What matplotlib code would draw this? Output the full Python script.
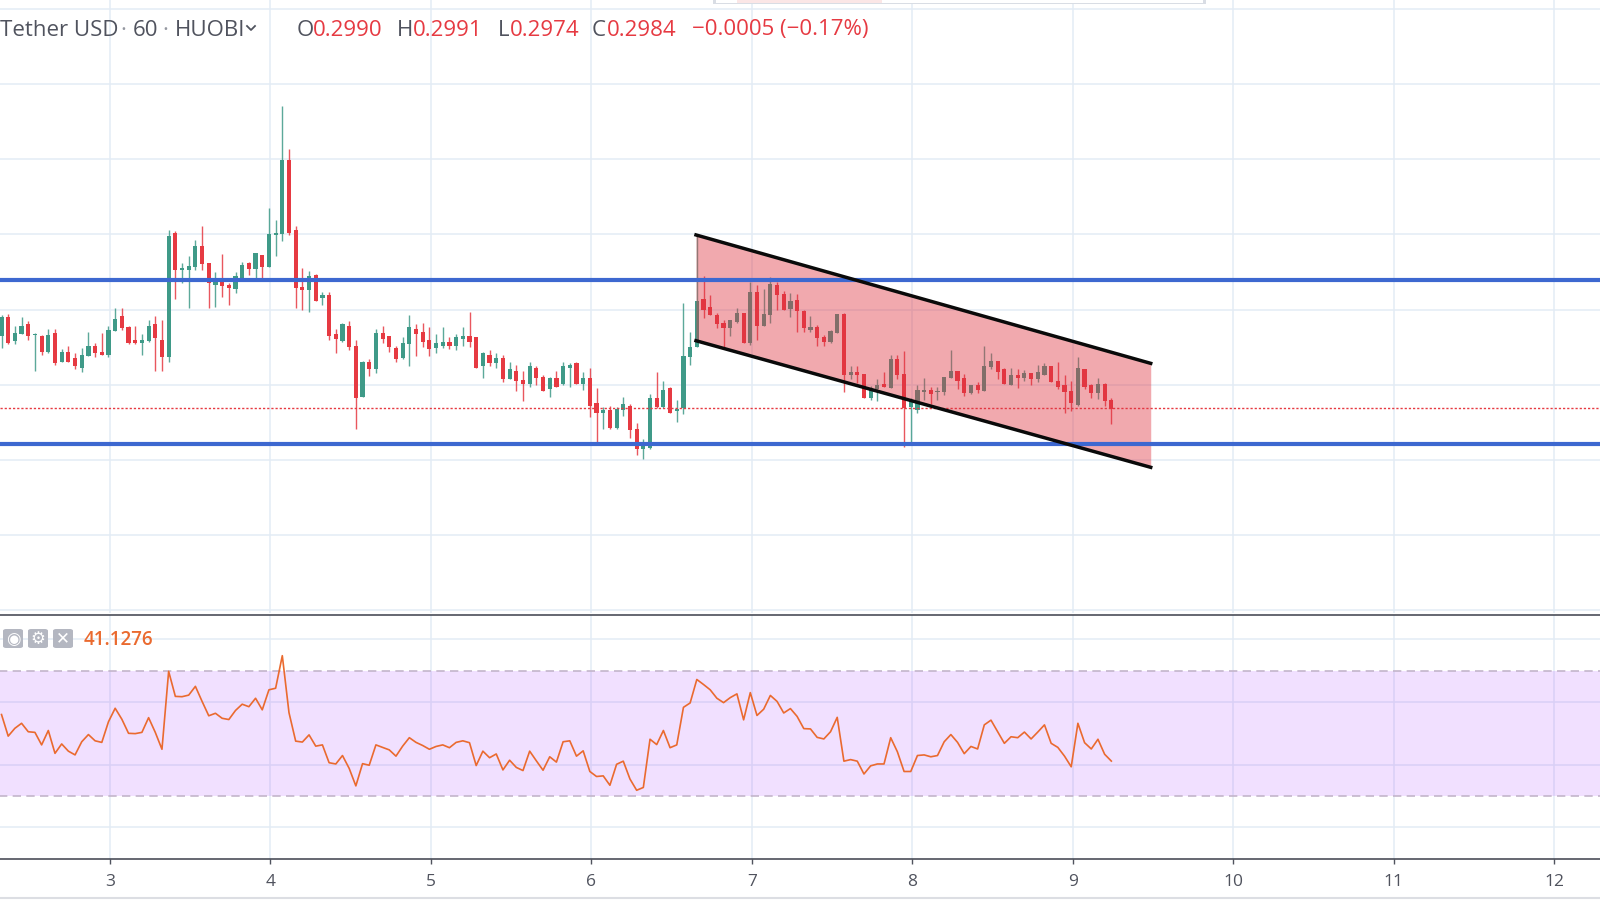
#Tether USD 60 minute candles from HUOBI with a falling channel and an RSI pane below.
import numpy as np
import matplotlib
matplotlib.use("Agg")
import matplotlib.pyplot as plt
from matplotlib.lines import Line2D
from matplotlib.patches import Rectangle, FancyBboxPatch

plt.rcParams['font.family'] = ['Open Sans', 'DejaVu Sans']

#candle prices in units of 0.00001, one candle per hour
opens = [30326, 30448, 30288, 30337, 30403, 30328, 30323, 30219, 30343, 30152,
         30217, 30177, 30112, 30192, 30254, 30217, 30197, 30357, 30459, 30381,
         30294, 30279, 30288, 30401, 30294, 30181, 31010, 30763, 30763, 30783,
         30923, 30808, 30666, 30697, 30663, 30637, 30708, 30810, 30772, 30865,
         30783, 30997, 31005, 31497, 31030, 30652, 30628, 30730, 30579, 30594,
         30334, 30288, 30390, 30257, 29919, 30150, 30103, 30343, 30323, 30246,
         30177, 30268, 30372, 30352, 30294, 30246, 30257, 30286, 30257, 30306,
         30323, 30314, 30121, 30199, 30141, 30179, 30034, 30090, 30032, 30003,
         30110, 30052, 29968, 30043, 30003, 30112, 30141, 30006, 30043, 29879,
         29812, 29830, 29712, 29830, 29859, 29703, 29570, 29579, 29908, 29848,
         29977, 29821, 29841, 30181, 30248, 30568, 30517, 30463, 30410, 30374,
         30419, 30479, 30274, 30614, 30392, 30463, 30663, 30606, 30501, 30566,
         30492, 30363, 30383, 30314, 30286, 30346, 30470, 30063, 30081, 30070,
         29908, 29968, 30003, 29979, 30168, 30070, 29852, 29830, 29950, 29963,
         29948, 29948, 30043, 30090, 30041, 29946, 29997, 29959, 30119, 30159,
         30101, 29997, 30063, 30046, 30079, 30037, 30063, 30121, 30023, 29994,
         29954, 29863, 30101, 29997, 29941, 30006, 29900]
highs = [30463, 30468, 30390, 30448, 30421, 30343, 30332, 30372, 30372, 30234,
         30254, 30208, 30246, 30352, 30274, 30341, 30390, 30508, 30508, 30390,
         30390, 30334, 30430, 30459, 30430, 31030, 31021, 30808, 30857, 30963,
         31059, 30808, 30748, 30868, 30674, 30748, 30817, 30817, 30874, 30865,
         31174, 31097, 31854, 31572, 31059, 30779, 30759, 30739, 30614, 30614,
         30372, 30408, 30421, 30294, 30159, 30168, 30372, 30390, 30323, 30257,
         30314, 30461, 30401, 30412, 30383, 30334, 30383, 30314, 30334, 30383,
         30481, 30319, 30219, 30228, 30208, 30199, 30150, 30130, 30090, 30150,
         30121, 30063, 30052, 30092, 30150, 30141, 30150, 30081, 30110, 29974,
         29850, 29859, 29850, 29917, 29868, 29741, 29634, 29937, 30081, 30023,
         29986, 29897, 30546, 30352, 30997, 30723, 30597, 30474, 30430, 30430,
         30508, 30479, 30685, 30663, 30634, 30719, 30685, 30623, 30608, 30603,
         30497, 30459, 30397, 30330, 30363, 30470, 30479, 30123, 30123, 30070,
         29990, 30034, 30081, 30194, 30194, 30226, 29908, 29997, 30041, 29986,
         29986, 30052, 30230, 30090, 30070, 29994, 30014, 30257, 30208, 30159,
         30108, 30108, 30101, 30097, 30079, 30130, 30141, 30123, 30150, 30061,
         30023, 30181, 30101, 30003, 30041, 30012, 29910]
lows = [30241, 30268, 30268, 30334, 30297, 30092, 30199, 30208, 30132, 30152,
        30152, 30103, 30086, 30190, 30181, 30199, 30181, 30354, 30366, 30268,
        30268, 30199, 30286, 30092, 30092, 30152, 30568, 30674, 30510, 30763,
        30763, 30510, 30519, 30586, 30530, 30608, 30708, 30732, 30697, 30708,
        30783, 30859, 30957, 30994, 30510, 30499, 30481, 30559, 30530, 30297,
        30208, 30286, 30230, 29706, 29919, 30054, 30074, 30277, 30219, 30150,
        30170, 30121, 30190, 30248, 30190, 30208, 30246, 30237, 30228, 30257,
        30248, 30112, 30046, 30121, 30112, 30017, 30034, 29957, 29888, 29986,
        29997, 29957, 29917, 29986, 29997, 29986, 30006, 29966, 29781, 29608,
        29706, 29706, 29706, 29792, 29646, 29530, 29501, 29570, 29841, 29841,
        29812, 29752, 29801, 30130, 30248, 30441, 30461, 30374, 30248, 30323,
        30412, 30279, 30266, 30297, 30390, 30412, 30497, 30497, 30450, 30352,
        30352, 30352, 30259, 30259, 30279, 30346, 29948, 30037, 30008, 29908,
        29897, 29890, 29986, 29979, 30034, 29581, 29608, 29812, 29897, 29870,
        29897, 29928, 30043, 29968, 29926, 29939, 29941, 29959, 30106, 30037,
        30006, 29994, 29977, 30026, 29997, 30017, 30063, 30017, 29968, 29812,
        29826, 29859, 29968, 29908, 29901, 29859, 29740]
closes = [30452, 30279, 30343, 30390, 30326, 30337, 30219, 30332, 30141, 30217,
          30152, 30123, 30194, 30254, 30208, 30199, 30361, 30439, 30374, 30277,
          30277, 30294, 30390, 30308, 30181, 30992, 30763, 30779, 30788, 30923,
          30803, 30679, 30697, 30657, 30646, 30721, 30799, 30772, 30874, 30783,
          31001, 31010, 31497, 31012, 30646, 30628, 30721, 30559, 30594, 30326,
          30306, 30401, 30248, 29910, 30150, 30103, 30343, 30306, 30248, 30170,
          30274, 30383, 30334, 30286, 30239, 30274, 30286, 30257, 30314, 30323,
          30286, 30112, 30208, 30141, 30179, 30034, 30101, 30023, 30003, 30121,
          30046, 29957, 30043, 29986, 30121, 30130, 30006, 30043, 29859, 29812,
          29830, 29712, 29839, 29868, 29697, 29570, 29588, 29908, 29848, 29966,
          29812, 29839, 30188, 30248, 30557, 30497, 30461, 30403, 30374, 30430,
          30479, 30279, 30614, 30392, 30470, 30672, 30597, 30497, 30557, 30490,
          30374, 30381, 30308, 30286, 30354, 30470, 30063, 30081, 30066, 29908,
          29968, 29997, 29986, 30168, 30066, 29846, 29897, 29963, 29963, 29937,
          29954, 30052, 30090, 30026, 29946, 29994, 29963, 30123, 30159, 30086,
          30006, 30063, 30046, 30079, 30037, 30081, 30123, 30017, 29986, 29948,
          29879, 30110, 29983, 29941, 30003, 29890, 29840]

#rsi for the same candles
rsi = [56.0, 49.1, 51.6, 53.2, 50.5, 50.3, 46.3, 50.9, 43.6, 46.6,
       44.3, 43.1, 47.3, 49.6, 47.6, 47.1, 53.7, 58.0, 54.5, 50.0,
       49.9, 50.3, 55.0, 50.3, 44.9, 69.8, 61.8, 61.7, 62.2, 65.0,
       60.2, 55.6, 56.4, 54.8, 54.4, 57.3, 59.3, 58.5, 61.2, 57.5,
       63.9, 64.4, 74.8, 56.6, 47.5, 47.2, 49.5, 45.9, 46.3, 40.6,
       40.2, 42.9, 38.8, 33.2, 40.3, 39.8, 46.3, 45.5, 44.7, 42.7,
       45.9, 48.6, 47.1, 46.1, 44.9, 45.8, 46.3, 45.4, 47.1, 47.6,
       47.0, 39.7, 44.3, 42.2, 43.4, 38.3, 41.4, 39.1, 38.1, 44.3,
       41.2, 38.2, 42.5, 40.8, 47.3, 47.6, 42.7, 44.4, 37.8, 36.2,
       36.4, 33.4, 40.1, 41.1, 35.4, 31.8, 32.7, 48.1, 46.4, 50.9,
       45.4, 46.3, 58.3, 59.7, 67.2, 65.6, 63.9, 61.2, 59.8, 61.4,
       62.6, 54.3, 63.0, 55.7, 57.7, 62.1, 60.2, 56.5, 57.9, 55.4,
       51.5, 51.4, 48.7, 48.2, 50.5, 55.1, 41.1, 41.6, 41.1, 37.0,
       39.6, 40.2, 40.2, 48.6, 44.1, 37.8, 37.8, 42.9, 43.1, 42.5,
       42.9, 47.3, 49.6, 47.1, 43.5, 45.8, 45.0, 52.7, 54.2, 50.5,
       46.8, 48.9, 48.6, 50.4, 48.2, 50.4, 52.7, 46.8, 45.5, 42.7,
       39.3, 53.2, 47.0, 45.0, 48.1, 43.3, 41.1276]

price_unit = 0.00001
first_candle_day = 2.3238
candles_per_day = 24

#levels and the channel drawing
upper_level = 0.30699
lower_level = 0.29603
last_price = 0.29845
channel_days = [6.652, 9.486]
channel_top = [0.30997, 0.30141]
channel_bottom = [0.30292, 0.29448]

day_ticks = [3, 4, 5, 6, 7, 8, 9, 10, 11, 12]
price_grid = [0.285, 0.29, 0.295, 0.30, 0.305, 0.31, 0.315, 0.32, 0.325]
rsi_grid = [20, 40, 60, 80]
rsi_band = [30, 70]

green = '#3f9a88'
red = '#e63a42'
grid_color = '#e3ecf5'
text_grey = '#50535e'
orange = '#ea6a2f'

W, H = 1600, 900

#pixel box to figure fraction
def box(top, bottom):
    return [0, 1 - bottom/H, 1, (bottom - top)/H]

def label(x, y, s, color=text_grey, size=16, ha='left', **kw):
    fig.text(x/W, 1 - y/H, s, color=color, fontsize=size, ha=ha, va='center', **kw)

fig = plt.figure(figsize=(16, 9), dpi=100, facecolor='white')
ax = fig.add_axes(box(0, 613))
ax2 = fig.add_axes(box(614.5, 858.5), sharex=ax)

o = np.array(opens)*price_unit
h = np.array(highs)*price_unit
l = np.array(lows)*price_unit
c = np.array(closes)*price_unit
days = first_candle_day + np.arange(len(o))/candles_per_day
colors = [green if close >= open_ else red for open_, close in zip(o, c)]

#price pane
ax.vlines(day_ticks, 0.2, 0.4, color=grid_color, lw=1.1, zorder=1)
ax.hlines(price_grid, 2, 13, color=grid_color, lw=1.1, zorder=1)
ax.vlines(days, l, h, color=colors, lw=1.0, alpha=0.85, zorder=2)
ax.bar(days, np.maximum(np.abs(c - o), 0.00006), bottom=np.minimum(o, c), width=0.026, color=colors, lw=0, zorder=3)
ax.axhline(last_price, color=red, lw=1.0, ls=(0, (1.6, 1.4)), zorder=4)
ax.fill_between(channel_days, channel_bottom, channel_top, color='#de3240', alpha=0.42, lw=0, zorder=5)
ax.axhline(upper_level, color='#3d68d0', lw=3.0, zorder=6)
ax.axhline(lower_level, color='#3d68d0', lw=3.0, zorder=6)
ax.plot(channel_days, channel_top, color='#0a0a0a', lw=2.5, zorder=7)
ax.plot(channel_days, channel_bottom, color='#0a0a0a', lw=2.5, zorder=7)
ax.set_xlim(2.3144, 12.286)
ax.set_ylim(0.28477, 0.32563)
ax.set_yticks([])
for side in ax.spines.values():
    side.set_visible(False)
ax.tick_params(bottom=False, labelbottom=False)

#rsi pane
ax2.vlines(day_ticks, 0, 100, color=grid_color, lw=1.1, zorder=1)
ax2.hlines(rsi_grid, 2, 13, color=grid_color, lw=1.1, zorder=1)
ax2.axhspan(rsi_band[0], rsi_band[1], color='#9915ff', alpha=0.13, lw=0, zorder=2)
ax2.hlines(rsi_band, 2, 13, color='#c3b5cb', lw=1.2, linestyles=[(0, (5, 3.2))], zorder=3)
ax2.plot(days, rsi, color=orange, lw=1.2, zorder=4)
ax2.set_ylim(10.0, 87.96)
ax2.set_yticks([])
ax2.set_xticks(day_ticks)
ax2.set_xticklabels([str(d) for d in day_ticks], fontsize=12.5, color=text_grey)
ax2.tick_params(axis='x', length=3.5, width=1, color='#50535e', pad=8)
for name, side in ax2.spines.items():
    side.set_visible(name in ('top', 'bottom'))
    side.set_color('#3c3f4a')
    side.set_linewidth(1.1)

#header
label(0, 30, 'Tether USD')
label(123, 30, '·', color='#9598a1', ha='center')
label(133, 30, '60')
label(165, 30, '·', color='#9598a1', ha='center')
label(175, 30, 'HUOBI')
fig.add_artist(Line2D(np.array([247, 251, 255])/W, 1 - np.array([26, 30, 26])/H, color=text_grey, lw=1.3))
for x, s in [(297, 'O'), (397, 'H'), (498, 'L'), (592, 'C')]:
    label(x, 30, s)
for x, s in [(313, '0.2990'), (413, '0.2991'), (510, '0.2974'), (607, '0.2984'), (692, '\u22120.0005 (\u22120.17%)')]:
    label(x, 30, s, color=red)

#rsi pane buttons and value
for x, glyph in [(3, '\u25c9'), (28, '\u2699'), (53, '\u2715')]:
    fig.add_artist(FancyBboxPatch((x/W, 1 - 648/H), 20/W, 19/H, boxstyle='round,pad=0,rounding_size=0.002',
                                  fc='#b4b7c1', ec='none', transform=fig.transFigure))
    label(x + 10, 638.5, glyph, color='white', size=12, ha='center', family='DejaVu Sans')
label(84, 640, '41.1276', color=orange, size=13.5, weight='semibold')

#bits of the page around the chart
fig.add_artist(Line2D([0, 1], [1 - 897.5/H]*2, color='#dcdee3', lw=1.5))
fig.add_artist(Rectangle((713/W, 1 - 4/H), 493/W, 4/H, fc='#d9dde4', ec='none', transform=fig.transFigure))
fig.add_artist(Rectangle((716/W, 1 - 2.5/H), 487/W, 2.5/H, fc='white', ec='none', transform=fig.transFigure))
fig.add_artist(Rectangle((737/W, 1 - 2.5/H), 145/W, 2.5/H, fc='#fbe6e6', ec='none', transform=fig.transFigure))

fig.savefig('out.png', dpi=100)
